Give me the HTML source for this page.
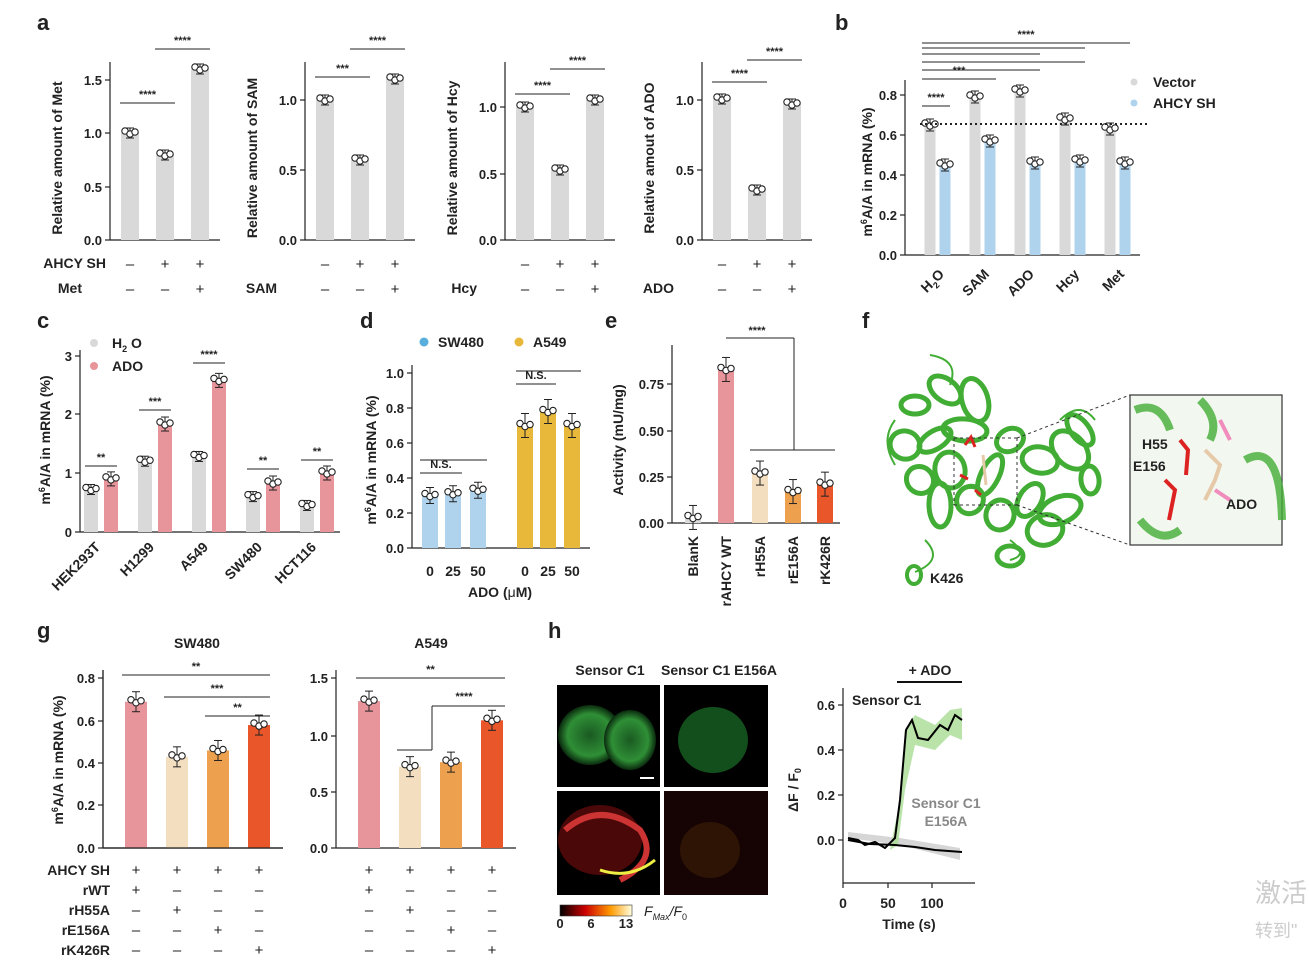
<!DOCTYPE html>
<html><head><meta charset="utf-8"><style>
html,body{margin:0;padding:0;background:#fff}
svg{display:block;font-family:"Liberation Sans",Arial,sans-serif}
</style></head><body>
<svg id="s" width="1309" height="963" viewBox="0 0 1309 963" xmlns="http://www.w3.org/2000/svg"></svg>
<script>
const S=document.getElementById('s');let out='';
function T(x,y,t,o={}){out+=`<text x="${x}" y="${y}" font-size="${o.s||13}" font-weight="${o.w||'bold'}" text-anchor="${o.a||'start'}" fill="${o.c||'#222'}" ${o.r!==undefined?`transform="rotate(${o.r} ${x} ${y})"`:''}>${t}</text>`;}
function L(x1,y1,x2,y2,c='#222',w=1.2,d=''){out+=`<line x1="${x1}" y1="${y1}" x2="${x2}" y2="${y2}" stroke="${c}" stroke-width="${w}" ${d?`stroke-dasharray="${d}"`:''}/>`;}
function R(x,y,w,h,f){out+=`<rect x="${x}" y="${y}" width="${w}" height="${h}" fill="${f}"/>`;}
function C(x,y,r=3.5){out+=`<circle cx="${x}" cy="${y}" r="${r}" fill="#fff" stroke="#222" stroke-width="1.1"/>`;}
function axis(x,ticks,yTop,y0,xEnd,lab,ly){L(x,yTop,x,y0);L(x,y0,xEnd,y0);ticks.forEach(t=>{L(x-5,t[1],x,t[1]);T(x-8,t[1]+5,t[0],{a:'end'});});if(lab)T(ly[0],ly[1],lab,{r:-90,a:'middle',s:14});}
function bar(cx,top,y0,w,col,err){R(cx-w/2,top,w,y0-top,col);L(cx,top-err,cx,top+err,'#222',1);L(cx-4,top-err,cx+4,top-err,'#222',1);L(cx-4,top+err,cx+4,top+err,'#222',1);C(cx-5,top-2,3.2);C(cx,top+1,3.2);C(cx+5,top-1,3.2);}
function sig(x1,x2,y,t){L(x1,y,x2,y,'#222',1);T((x1+x2)/2,y-5,t,{a:'middle',s:11});}
T(37,30,'a',{s:22});T(835,30,'b',{s:22});T(37,328,'c',{s:22});T(360,328,'d',{s:22});T(605,328,'e',{s:22});T(862,328,'f',{s:22});T(37,638,'g',{s:22});T(548,638,'h',{s:22});
const G='#d9d9d9';
function pa(ax,ticks,y0,vals,sy1,sy2,t1,lab,rowLab,mets){
 axis(ax,ticks,62,y0,ax+110,lab,[ax-48,158]);
 const xs=[ax+20,ax+55,ax+90];vals.forEach((v,i)=>bar(xs[i],v,y0,18,G,5));
 sig(xs[0]-10,xs[1]+10,sy1,t1);sig(xs[1]-10,xs[2]+10,sy2,'****');
 ['–','+','+'].forEach((s,i)=>T(xs[i],269,s,{a:'middle',w:'normal',s:15}));
 mets.forEach((s,i)=>T(xs[i],294,s,{a:'middle',w:'normal',s:15}));
 T(ax-28,293,rowLab,{a:'end',s:14});}
pa(110,[['0.0',240],['0.5',187],['1.0',133],['1.5',80]],240,[133,155,69],103,49,'****','Relative amount of Met','Met',['–','–','+']);
T(106,268,'AHCY SH',{a:'end',s:14});
pa(305,[['0.0',240],['0.5',170],['1.0',100]],240,[100,160,79],77,49,'***','Relative amount of SAM','SAM',['–','–','+']);
pa(505,[['0.0',240],['0.5',174],['1.0',107]],240,[107,170,100],94,69,'****','Relative amount of Hcy','Hcy',['–','–','+']);
pa(702,[['0.0',240],['0.5',170],['1.0',100]],240,[99,190,104],82,60,'****','Relative amout of ADO','ADO',['–','–','+']);
axis(905,[['0.0',255],['0.2',215],['0.4',175],['0.6',135],['0.8',95]],80,255,1140,'m<tspan font-size="9" dy="-5">6</tspan><tspan dy="5">A/A in mRNA (%)</tspan>',[872,172]);
const bx=[930,975,1020,1065,1110],gv=[.65,.79,.82,.68,.63],bv=[.45,.57,.46,.47,.46],B='#afd3ec';
bx.forEach((x,i)=>{bar(x,255-gv[i]*200,255,11,G,6);bar(x+15,255-bv[i]*200,255,11,B,6);});
L(920,124,1148,124,'#222',2,'2,3');
sig(922,950,106,'****');sig(922,996,79,'***');L(922,70,1040,70,'#222',1);L(922,62,1085,62,'#222',1);L(922,54,1040,54,'#222',1);L(922,48,1085,48,'#222',1);sig(922,1130,43,'****');
['H<tspan font-size="9" dy="4">2</tspan><tspan dy="-4">O</tspan>','SAM','ADO','Hcy','Met'].forEach((t,i)=>T(bx[i]+15,275,t,{a:'end',r:-45,s:14}));
out+=`<circle cx="1134" cy="82" r="3.5" fill="${G}"/><circle cx="1134" cy="103" r="3.5" fill="${B}"/>`;T(1153,87,'Vector',{s:14});T(1153,108,'AHCY SH',{s:14});
axis(80,[['0',532],['1',473],['2',414],['3',356]],350,532,340,'m<tspan font-size="9" dy="-5">6</tspan><tspan dy="5">A/A  in mRNA (%)</tspan>',[50,440]);
const P='#e8949b';[[.72,.9],[1.2,1.83],[1.28,2.57],[.6,.83],[.45,1]].forEach((v,i)=>{const x=91+54*i;bar(x,532-v[0]*59,532,14,G,5);bar(x+20,532-v[1]*59,532,14,P,7);});
sig(85,117,466,'**');sig(139,171,410,'***');sig(193,225,363,'****');sig(247,279,469,'**');sig(301,333,460,'**');
['HEK293T','H1299','A549','SW480','HCT116'].forEach((t,i)=>T(101+54*i,548,t,{a:'end',r:-45,s:14}));
out+=`<circle cx="94" cy="343" r="4" fill="${G}"/><circle cx="94" cy="366" r="4" fill="${P}"/>`;T(112,348,'H<tspan font-size="9" dy="4">2</tspan><tspan dy="-4"> O</tspan>',{s:14});T(112,371,'ADO',{s:14});
axis(412,[['0.0',548],['0.2',513],['0.4',478],['0.6',443],['0.8',408],['1.0',373]],365,548,590,'m<tspan font-size="9" dy="-5">6</tspan><tspan dy="5">A/A  in mRNA (%)</tspan>',[376,460]);
const O='#e8b83a';[.3,.31,.33].forEach((v,i)=>bar([430,453,478][i],548-v*175,548,16,B,8));[.7,.78,.7].forEach((v,i)=>bar([525,548,572][i],548-v*175,548,16,O,12));
sig(420,462,473,'N.S.');L(420,460,487,460,'#222',1);sig(516,556,384,'N.S.');L(516,371,581,371,'#222',1);
['0','25','50'].forEach((t,i)=>{T([430,453,478][i],576,t,{a:'middle',s:14});T([525,548,572][i],576,t,{a:'middle',s:14});});
T(500,597,'ADO (<tspan font-weight="normal">μ</tspan>M)',{a:'middle',s:14});
out+=`<circle cx="424" cy="342" r="4.5" fill="#5aaedc"/><circle cx="519" cy="342" r="4.5" fill="${O}"/>`;T(438,347,'SW480',{s:14});T(533,347,'A549',{s:14});
axis(672,[['0.00',523],['0.25',477],['0.50',431],['0.75',384]],345,523,840,'Activity (mU/mg)',[623,440]);
[[693,.03,G],[726,.83,P],[760,.27,'#f3dfc0'],[793,.17,'#eda04e'],[825,.21,'#e9562a']].forEach(b=>bar(b[0],523-b[1]*185,523,16,b[2],12));
L(726,338,794,338,'#222',1);L(794,338,794,450,'#222',1);L(750,450,835,450,'#222',1);T(757,334,'****',{a:'middle',s:11});
['BlanK','rAHCY WT','rH55A','rE156A','rK426R'].forEach((t,i)=>T([698,731,765,798,830][i],536,t,{a:'end',r:-90,s:14}));
// panel f
let gp='';const seeds=[[915,405],[945,390],[975,400],[905,445],[935,440],[965,430],[920,480],[950,470],[990,475],[1010,440],[1040,460],[1070,450],[1090,480],[1030,500],[1060,510],[1000,515],[1080,430],[940,505],[970,500],[1045,530]];
seeds.forEach((p,i)=>{gp+=`<ellipse cx="${p[0]}" cy="${p[1]}" rx="${14+(i%3)*4}" ry="${9+(i%4)*2}" fill="none" stroke="#42ad34" stroke-width="5" transform="rotate(${i*37} ${p[0]} ${p[1]})"/>`;});
out+=`<g>${gp}<path d="M930,355 Q960,360 950,385 M895,420 Q880,440 895,465 M925,540 Q945,560 915,572 M1010,540 Q1030,555 1010,560 M1060,420 Q1080,400 1095,420" stroke="#42ad34" stroke-width="2" fill="none"/><ellipse cx="914" cy="575" rx="7" ry="9" fill="none" stroke="#42ad34" stroke-width="4"/><ellipse cx="1010" cy="556" rx="13" ry="10" fill="none" stroke="#42ad34" stroke-width="5"/></g>`;
out+=`<path d="M965,445 l6,-8 l4,10 M960,475 l8,4 M975,490 l6,5" stroke="#d22" stroke-width="3" fill="none"/><path d="M983,455 l3,30" stroke="#e6c9a8" stroke-width="3"/>`;
L(954,438,1017,438,'#333',1,'3,3');L(954,505,1017,505,'#333',1,'3,3');L(954,438,954,505,'#333',1,'3,3');L(1017,438,1017,505,'#333',1,'3,3');
L(1017,438,1130,395,'#333',1,'3,3');L(1017,505,1130,545,'#333',1,'3,3');
out+=`<rect x="1130" y="395" width="152" height="150" fill="#f2f8f0" stroke="#333" stroke-width="1.2"/>
<path d="M1135,410 Q1160,400 1170,430 M1200,400 Q1220,420 1210,440 M1245,460 Q1280,440 1282,520 M1140,520 Q1160,545 1180,530" stroke="#42ad34" stroke-width="8" fill="none" opacity="0.8"/>
<path d="M1180,440 l8,10 l-2,25 M1165,480 l10,10 l-6,30" stroke="#d22" stroke-width="4" fill="none"/><path d="M1205,450 l15,15 l-5,15 l-10,20" stroke="#e6c9a8" stroke-width="4" fill="none"/><path d="M1220,420 l10,20 M1215,490 l15,10" stroke="#e28" stroke-width="4" fill="none" opacity="0.5"/>`;
T(1142,449,'H55',{s:14});T(1133,471,'E156',{s:14});T(1226,509,'ADO',{s:14});T(930,583,'K426',{s:14});
function pg(ax,ticks,vals,sc,title,tx){axis(ax,ticks,670,848,ax+180,null);T(tx,648,title,{a:'middle',s:14});
 const xs=[ax+33,ax+74,ax+115,ax+156];const cs=[P,'#f3dfc0','#eda04e','#e9562a'];vals.forEach((v,i)=>bar(xs[i],848-v*sc,848,22,cs[i],10));
 const rows=[['+','+','+','+'],['+','–','–','–'],['–','+','–','–'],['–','–','+','–'],['–','–','–','+']];
 rows.forEach((r,j)=>r.forEach((s,i)=>T(xs[i],875+j*20,s,{a:'middle',w:'normal',s:15})));return xs;}
pg(103,[['0.0',848],['0.2',805],['0.4',763],['0.6',721],['0.8',678]],[.69,.43,.46,.58],212,'SW480',197);
sig(122,270,675,'**');sig(164,270,697,'***');sig(205,270,716,'**');
axis(103,[],670,848,283,'m<tspan font-size="9" dy="-5">6</tspan><tspan dy="5">A/A  in mRNA (%)</tspan>',[63,760]);
pg(336,[['0.0',848],['0.5',792],['1.0',736],['1.5',678]],[1.3,.72,.76,1.13],113,'A549',431);
sig(356,505,678,'**');L(397,750,432,750,'#222',1);L(432,750,432,706,'#222',1);L(432,706,505,706,'#222',1);T(464,700,'****',{a:'middle',s:11});
['AHCY SH','rWT','rH55A','rE156A','rK426R'].forEach((t,i)=>T(110,875+i*20,t,{a:'end',s:14}));
out+=`<defs><radialGradient id="g1"><stop offset="0" stop-color="#1a5a22"/><stop offset=".7" stop-color="#2f8f36"/><stop offset="1" stop-color="#0a2a0e"/></radialGradient>
<linearGradient id="cb"><stop offset="0" stop-color="#000"/><stop offset=".35" stop-color="#c00"/><stop offset=".7" stop-color="#f90"/><stop offset="1" stop-color="#ffffe0"/></linearGradient></defs>
<rect x="557" y="685" width="103" height="102" fill="#000"/><ellipse cx="590" cy="735" rx="32" ry="30" fill="url(#g1)"/><ellipse cx="630" cy="740" rx="26" ry="30" fill="url(#g1)"/>
<rect x="664" y="685" width="104" height="102" fill="#000"/><ellipse cx="713" cy="740" rx="35" ry="33" fill="#134f1c"/>
<rect x="557" y="791" width="103" height="104" fill="#000"/><ellipse cx="600" cy="840" rx="42" ry="35" fill="#4a0808"/><path d="M565,830 Q600,800 640,830 Q660,860 620,880" stroke="#c33" stroke-width="6" fill="none"/><path d="M600,870 Q630,880 655,860" stroke="#ee4" stroke-width="3" fill="none"/>
<rect x="664" y="791" width="104" height="104" fill="#160303"/><ellipse cx="710" cy="850" rx="30" ry="28" fill="#2e1405"/>
<rect x="560" y="905" width="72" height="11" fill="url(#cb)" stroke="#333" stroke-width=".6"/><line x1="640" y1="778" x2="654" y2="778" stroke="#fff" stroke-width="2"/>`;
T(610,675,'Sensor C1',{a:'middle',s:14});T(719,675,'Sensor C1 E156A',{a:'middle',s:14});
T(560,928,'0',{a:'middle',s:13});T(591,928,'6',{a:'middle',s:13});T(626,928,'13',{a:'middle',s:13});
T(644,916,'<tspan font-style="italic">F</tspan><tspan font-size="9" dy="4" font-style="italic">Max</tspan><tspan dy="-4" font-style="italic">/F</tspan><tspan font-size="9" dy="4">0</tspan>',{s:14,w:'normal'});
axis(843,[['0.0',840],['0.2',795],['0.4',750],['0.6',705]],688,883,975,'ΔF / F<tspan font-size="9" dy="3">0</tspan>',[798,790]);
[['0',843],['50',888],['100',932]].forEach(t=>{L(t[1],883,t[1],888);T(t[1],908,t[0],{a:'middle',s:14});});
T(909,929,'Time (s)',{a:'middle',s:14});L(897,682,962,682,'#111',2);T(930,675,'+ ADO',{a:'middle',s:14});
out+=`<path d="M848,838 L900,845 L960,860 L960,848 L900,838 L848,832Z" fill="#ccc" opacity=".8"/>
<path d="M900,800 L905,730 L915,715 L935,725 L950,710 L962,708 L962,740 L950,735 L935,750 L915,745 L905,790 L898,845 L890,850Z" fill="#a9dc95" opacity=".8"/>
<polyline points="848,838 858,840 865,845 875,842 885,848 895,838 900,800 906,730 912,720 918,738 928,740 940,725 948,730 955,715 962,720" fill="none" stroke="#000" stroke-width="2"/>
<polyline points="848,840 870,844 895,845 915,847 935,850 962,852" fill="none" stroke="#000" stroke-width="2"/>`;
T(852,705,'Sensor C1',{s:14});T(946,808,'Sensor C1',{a:'middle',s:14,c:'#888'});T(946,826,'E156A',{a:'middle',s:14,c:'#888'});
T(1255,902,'激活',{s:26,w:'normal',c:'#ccc'});T(1255,937,'转到"',{s:18,w:'normal',c:'#ccc'});
S.innerHTML=out;
</script>
</body></html>
